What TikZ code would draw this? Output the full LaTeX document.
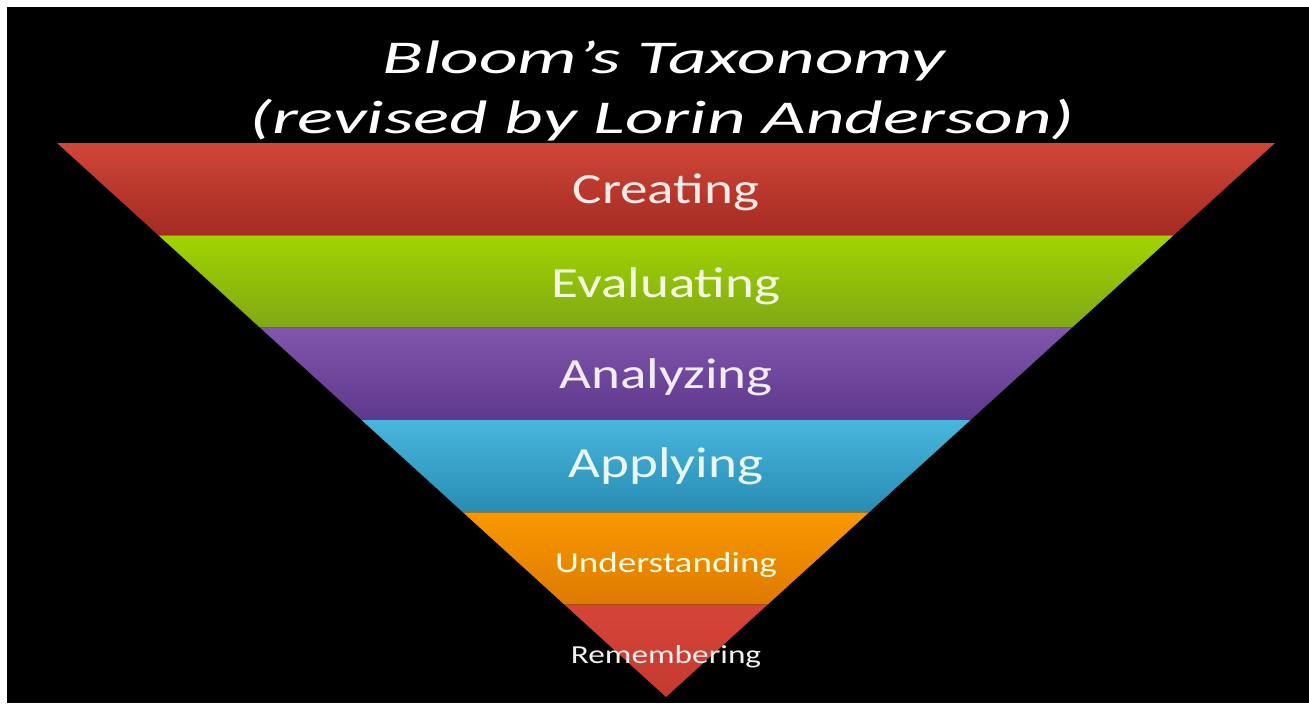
\documentclass[tikz,border=0pt]{standalone}
\usepackage{fontspec}
\setmainfont{Carlito}
\usepackage{tikz}
\usetikzlibrary{math}
\definecolor{BloomRed}{RGB}{208,70,56}
\definecolor{BloomRedDark}{RGB}{164,42,34}
\definecolor{BloomGreen}{RGB}{162,212,0}
\definecolor{BloomGreenDark}{RGB}{128,168,22}
\definecolor{BloomPurple}{RGB}{128,86,172}
\definecolor{BloomPurpleDark}{RGB}{94,56,140}
\definecolor{BloomBlue}{RGB}{72,182,222}
\definecolor{BloomBlueDark}{RGB}{40,140,178}
\definecolor{BloomOrange}{RGB}{250,152,0}
\definecolor{BloomOrangeDark}{RGB}{222,122,0}
\definecolor{BloomLow}{RGB}{214,68,56}
\definecolor{BloomLowDark}{RGB}{196,58,48}

\begin{document}
\begin{tikzpicture}[x=0.5pt,y=0.5pt,
    level/.style={text=white!88!#1, xscale=1.28, anchor=base, inner sep=0pt},
    title/.style={text=white, xscale=1.6, anchor=base, inner sep=0pt,
      font=\fontsize{23.5}{28}\selectfont\itshape}]
    \tikzmath{
      \xmid=666; \xl=57;
      \ytop=560; \yapex=6;
      \h=(\ytop-\yapex)/6;           % band height
      \k=(\xmid-\xl)/(\ytop-\yapex); % half width per unit of height
    }
    \fill[white] (0,0) rectangle (1309,703);
    \fill[black] (7,0) rectangle (1309,696);
    % bands of the inverted pyramid
    \foreach \i/\ctop/\cbot in {0/BloomRed/BloomRedDark,1/BloomGreen/BloomGreenDark,
        2/BloomPurple/BloomPurpleDark,3/BloomBlue/BloomBlueDark,
        4/BloomOrange/BloomOrangeDark,5/BloomLow/BloomLowDark}{
      \tikzmath{
        \yt=\ytop-\i*\h; \yb=\yt-\h;
        \wt=\k*(\yt-\yapex); \wb=\k*(\yb-\yapex);
      }
      \shade[top color=\ctop,bottom color=\cbot]
        (\xmid-\wt,\yt) -- (\xmid+\wt,\yt) -- (\xmid+\wb,\yb) -- (\xmid-\wb,\yb) -- cycle;
    }
    \node[title] (title1) at (664,629) {Bloom’s Taxonomy};
    \node[title] (title2) at (662,569) {(revised by Lorin Anderson)};
    \node[level=BloomRed,font=\fontsize{21.5}{26}\selectfont] (creating) at (\xmid,500) {Creating};
    \node[level=BloomGreen,font=\fontsize{21.5}{26}\selectfont] (evaluating) at (\xmid,406) {Evaluating};
    \node[level=BloomPurple,font=\fontsize{21.5}{26}\selectfont] (analyzing) at (\xmid,315) {Analyzing};
    \node[level=BloomBlue,font=\fontsize{21.5}{26}\selectfont] (applying) at (\xmid,226) {Applying};
    \node[level=yellow,font=\fontsize{14.5}{18}\selectfont] (understanding) at (\xmid,131) {Understanding};
    \node[level=gray,font=\fontsize{13}{16}\selectfont] (remembering) at (\xmid,40) {Remembering};
  \end{tikzpicture}
\end{document}
